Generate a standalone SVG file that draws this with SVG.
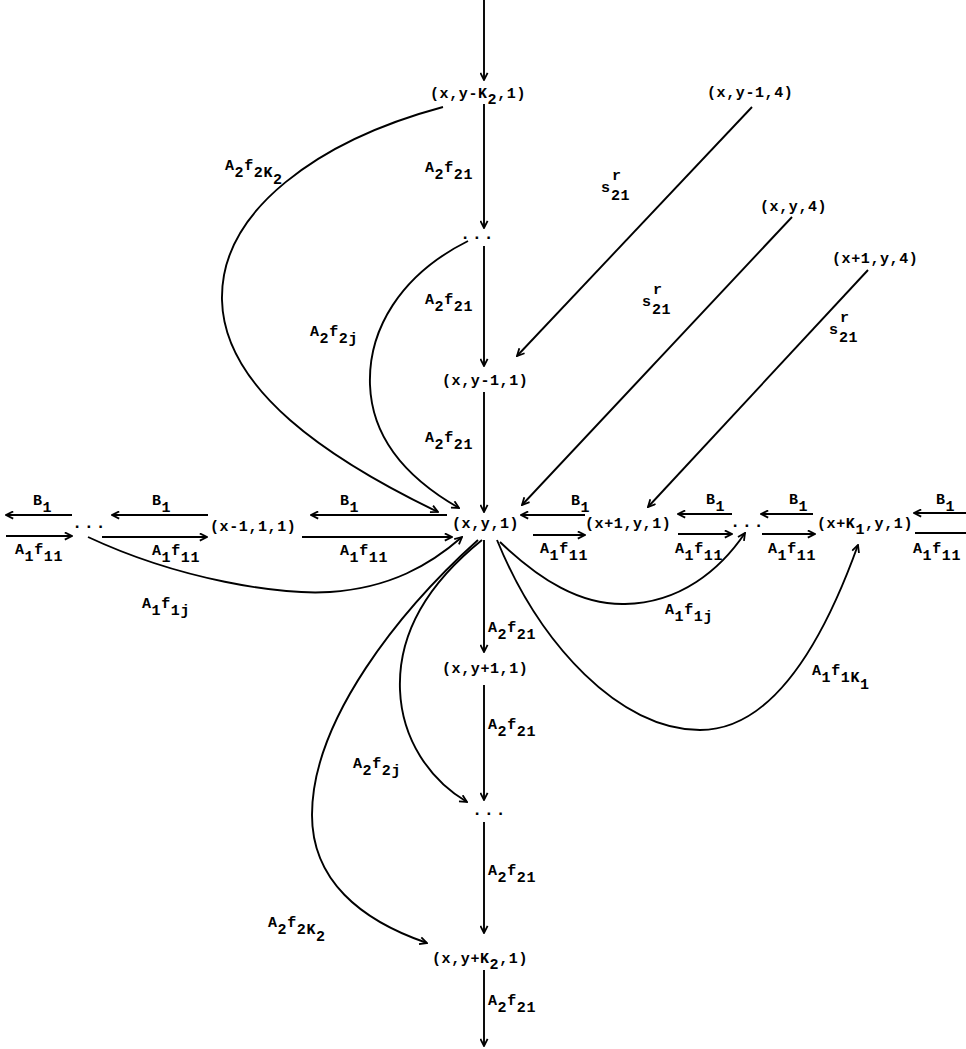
<svg xmlns="http://www.w3.org/2000/svg" width="966" height="1049" viewBox="0 0 966 1049">
<style>
.t{font-family:"Liberation Mono","DejaVu Sans Mono",monospace;font-weight:bold;font-size:15px;letter-spacing:0.6px;fill:#000}
.d{font-size:17px;letter-spacing:1.6px}
.c{fill:none;stroke:#000;stroke-width:1.9}
.a{marker-end:url(#ah)}
</style>
<defs>
<marker id="ah" viewBox="0 0 10 10" refX="9" refY="5" markerWidth="9" markerHeight="9" markerUnits="userSpaceOnUse" orient="auto">
<path d="M1,1 L9,5 L1,9" fill="none" stroke="#000" stroke-width="2"/>
</marker>
</defs>
<rect width="966" height="1049" fill="#fff"/>

<g id="connectors">
<!-- vertical chain -->
<path class="c a" d="M484,0 V80"/>
<path class="c a" d="M484,104 V228"/>
<path class="c a" d="M484,246 V366"/>
<path class="c a" d="M484,392 V512"/>
<path class="c a" d="M484,540 V652"/>
<path class="c a" d="M484,685 V800"/>
<path class="c a" d="M484,822 V933"/>
<path class="c a" d="M484,970 V1046"/>
<!-- horizontal row -->
<path class="c a" d="M72,515 H6"/>
<path class="c a" d="M6,536 H72"/>
<path class="c a" d="M208,515 H112"/>
<path class="c a" d="M102,537 H207"/>
<path class="c a" d="M447,515 H311"/>
<path class="c a" d="M302,537 H452"/>
<path class="c a" d="M585,515 H521"/>
<path class="c a" d="M533,535 H585"/>
<path class="c a" d="M732,514 H678"/>
<path class="c a" d="M678,534 H732"/>
<path class="c a" d="M813,514 H761"/>
<path class="c a" d="M762,534 H815"/>
<path class="c a" d="M966,513 H914"/>
<path class="c" d="M915,533 H966"/>
<!-- s21 diagonals -->
<path class="c a" d="M752,107 L517,356"/>
<path class="c a" d="M792,217 L522,505"/>
<path class="c a" d="M868,270 L648,507"/>
<!-- curves -->
<path class="c a" d="M443,107 C320,140 220,210 222,300 C224,390 330,460 438,512"/>
<path class="c a" d="M468,241 C400,275 368,330 370,385 C372,440 410,480 459,508"/>
<path class="c a" d="M88,537 C180,580 280,595 330,592 C390,588 430,565 462,537"/>
<path class="c a" d="M500,542 C540,580 580,605 625,604 C680,603 720,570 745,533"/>
<path class="c a" d="M497,540 C540,645 620,730 700,730 C772,730 822,645 858,545"/>
<path class="c a" d="M482,540 C420,590 398,640 400,690 C402,740 430,780 467,802"/>
<path class="c a" d="M478,540 C400,610 312,720 312,815 C312,880 360,920 427,943"/>
</g>

<g id="n-xyK2m"><text class="t" x="430" y="98">(x,y-K<tspan dy="6">2</tspan><tspan dy="-6">,1)</tspan></text></g>
<g id="n-dots-top"><text class="t d" x="460" y="239">...</text></g>
<g id="n-xym1"><text class="t" x="442" y="385">(x,y-1,1)</text></g>
<g id="n-xy1"><text class="t" x="452" y="528">(x,y,1)</text></g>
<g id="n-xyp1"><text class="t" x="442" y="673">(x,y+1,1)</text></g>
<g id="n-dots-bot"><text class="t d" x="472" y="815">...</text></g>
<g id="n-xyK2p"><text class="t" x="432" y="963">(x,y+K<tspan dy="6">2</tspan><tspan dy="-6">,1)</tspan></text></g>
<g id="n-dots-far-left"><text class="t d" x="72" y="528">...</text></g>
<g id="n-xm1"><text class="t" x="210" y="531">(x-1,1,1)</text></g>
<g id="n-xp1"><text class="t" x="585" y="528">(x+1,y,1)</text></g>
<g id="n-dots-right"><text class="t d" x="730" y="527">...</text></g>
<g id="n-xK1"><text class="t" x="817" y="528">(x+K<tspan dy="6">1</tspan><tspan dy="-6">,y,1)</tspan></text></g>
<g id="n-xym14"><text class="t" x="707" y="97">(x,y-1,4)</text></g>
<g id="n-xy4"><text class="t" x="760" y="211">(x,y,4)</text></g>
<g id="n-xp14"><text class="t" x="832" y="263">(x+1,y,4)</text></g>

<g id="labels">
<text class="t" x="425" y="172">A<tspan dy="7">2</tspan><tspan dy="-7">f</tspan><tspan dy="7">21</tspan></text>
<text class="t" x="425" y="304">A<tspan dy="7">2</tspan><tspan dy="-7">f</tspan><tspan dy="7">21</tspan></text>
<text class="t" x="425" y="442">A<tspan dy="7">2</tspan><tspan dy="-7">f</tspan><tspan dy="7">21</tspan></text>
<text class="t" x="488" y="632">A<tspan dy="7">2</tspan><tspan dy="-7">f</tspan><tspan dy="7">21</tspan></text>
<text class="t" x="488" y="729">A<tspan dy="7">2</tspan><tspan dy="-7">f</tspan><tspan dy="7">21</tspan></text>
<text class="t" x="488" y="875">A<tspan dy="7">2</tspan><tspan dy="-7">f</tspan><tspan dy="7">21</tspan></text>
<text class="t" x="488" y="1005">A<tspan dy="7">2</tspan><tspan dy="-7">f</tspan><tspan dy="7">21</tspan></text>
<text class="t" x="33" y="505">B<tspan dy="7">1</tspan></text>
<text class="t" x="152" y="505">B<tspan dy="7">1</tspan></text>
<text class="t" x="340" y="505">B<tspan dy="7">1</tspan></text>
<text class="t" x="571" y="505">B<tspan dy="7">1</tspan></text>
<text class="t" x="706" y="504">B<tspan dy="7">1</tspan></text>
<text class="t" x="789" y="504">B<tspan dy="7">1</tspan></text>
<text class="t" x="936" y="504">B<tspan dy="7">1</tspan></text>
<text class="t" x="15" y="554">A<tspan dy="7">1</tspan><tspan dy="-7">f</tspan><tspan dy="7">11</tspan></text>
<text class="t" x="152" y="555">A<tspan dy="7">1</tspan><tspan dy="-7">f</tspan><tspan dy="7">11</tspan></text>
<text class="t" x="340" y="555">A<tspan dy="7">1</tspan><tspan dy="-7">f</tspan><tspan dy="7">11</tspan></text>
<text class="t" x="540" y="553">A<tspan dy="7">1</tspan><tspan dy="-7">f</tspan><tspan dy="7">11</tspan></text>
<text class="t" x="675" y="553">A<tspan dy="7">1</tspan><tspan dy="-7">f</tspan><tspan dy="7">11</tspan></text>
<text class="t" x="768" y="553">A<tspan dy="7">1</tspan><tspan dy="-7">f</tspan><tspan dy="7">11</tspan></text>
<text class="t" x="913" y="553">A<tspan dy="7">1</tspan><tspan dy="-7">f</tspan><tspan dy="7">11</tspan></text>
<text class="t" x="225" y="170">A<tspan dy="7">2</tspan><tspan dy="-7">f</tspan><tspan dy="7">2K</tspan><tspan dy="7">2</tspan></text>
<text class="t" x="310" y="336">A<tspan dy="7">2</tspan><tspan dy="-7">f</tspan><tspan dy="7">2j</tspan></text>
<text class="t" x="142" y="608">A<tspan dy="7">1</tspan><tspan dy="-7">f</tspan><tspan dy="7">1j</tspan></text>
<text class="t" x="665" y="614">A<tspan dy="7">1</tspan><tspan dy="-7">f</tspan><tspan dy="7">1j</tspan></text>
<text class="t" x="812" y="675">A<tspan dy="7">1</tspan><tspan dy="-7">f</tspan><tspan dy="7">1K</tspan><tspan dy="7">1</tspan></text>
<text class="t" x="353" y="768">A<tspan dy="7">2</tspan><tspan dy="-7">f</tspan><tspan dy="7">2j</tspan></text>
<text class="t" x="268" y="927">A<tspan dy="7">2</tspan><tspan dy="-7">f</tspan><tspan dy="7">2K</tspan><tspan dy="7">2</tspan></text>
<text class="t" x="601" y="192">s<tspan x="612" y="180">r</tspan><tspan x="611" y="200">21</tspan></text>
<text class="t" x="642" y="306">s<tspan x="653" y="294">r</tspan><tspan x="652" y="314">21</tspan></text>
<text class="t" x="829" y="334">s<tspan x="840" y="322">r</tspan><tspan x="839" y="342">21</tspan></text>
</g>
</svg>
